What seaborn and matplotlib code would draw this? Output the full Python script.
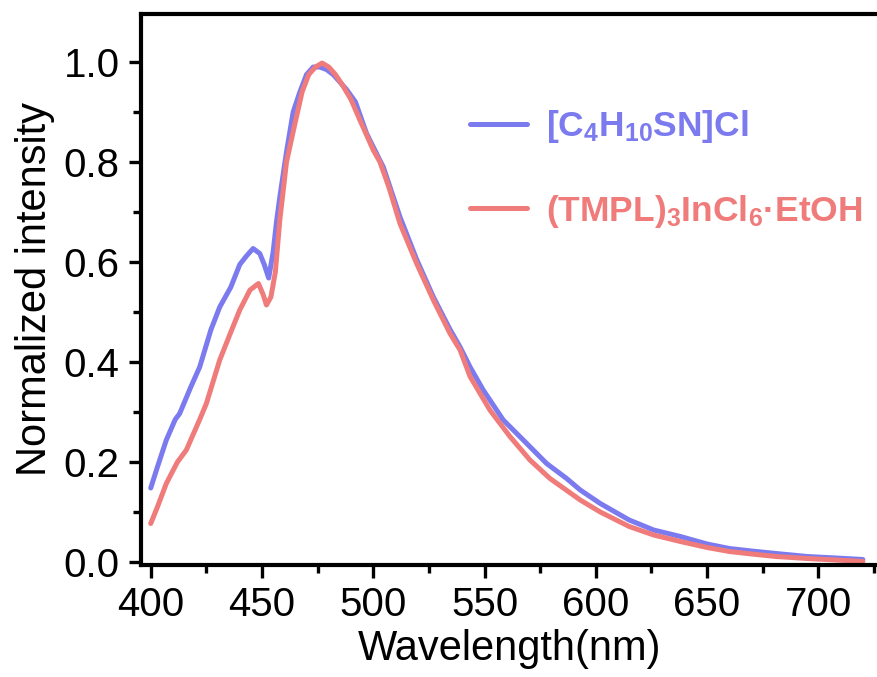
import numpy as np
import pandas as pd
import matplotlib
matplotlib.use("Agg")
import matplotlib.pyplot as plt
import seaborn as sns
from matplotlib.ticker import MultipleLocator
from matplotlib.lines import Line2D

# ---- data ----
wl_blue = [400, 403, 407, 411, 413, 418, 422, 427, 431, 436, 440, 443, 446, 449,
           451, 453, 455, 456.5, 458, 461, 464, 467, 470, 473, 476, 479, 482, 485,
           488, 492, 497, 500, 504.5, 509, 512, 519.5, 527, 534.5, 539, 543.5,
           549.4, 558.4, 567.4, 577.9, 586.9, 593, 602, 615, 626, 638, 650, 660,
           670, 681, 695, 708, 720]
int_blue = [0.148, 0.19, 0.244, 0.285, 0.297, 0.35, 0.39, 0.464, 0.51, 0.55, 0.595,
            0.612, 0.627, 0.617, 0.595, 0.568, 0.62, 0.68, 0.73, 0.82, 0.90, 0.94,
            0.975, 0.99, 0.99, 0.985, 0.975, 0.96, 0.945, 0.92, 0.857, 0.83, 0.79,
            0.73, 0.69, 0.605, 0.53, 0.465, 0.43, 0.39, 0.344, 0.284, 0.244, 0.197,
            0.167, 0.144, 0.117, 0.084, 0.064, 0.051, 0.036, 0.027, 0.022, 0.017,
            0.011, 0.008, 0.005]

wl_red = [400, 403, 407, 412, 416, 422, 425, 431, 436, 440, 444.6, 448.4, 450.5,
          452, 454, 456, 458, 461, 464.8, 468, 471, 474, 477, 480, 483, 486, 490,
          494, 500, 503, 507, 512, 519.5, 527, 534.5, 539, 543.5, 552.4, 561.4,
          570.4, 579.4, 593, 602, 615, 626, 638, 650, 660, 670, 681, 695, 708, 720]
int_red = [0.077, 0.11, 0.157, 0.20, 0.224, 0.285, 0.317, 0.404, 0.46, 0.504, 0.544,
           0.557, 0.535, 0.514, 0.53, 0.58, 0.684, 0.80, 0.877, 0.94, 0.975, 0.99,
           0.998, 0.99, 0.975, 0.955, 0.925, 0.884, 0.824, 0.80, 0.75, 0.677, 0.597,
           0.524, 0.457, 0.424, 0.371, 0.304, 0.251, 0.204, 0.167, 0.124, 0.10,
           0.071, 0.054, 0.041, 0.029, 0.021, 0.016, 0.011, 0.007, 0.004, 0.001]

label_blue = r'[C$_4$H$_{10}$SN]Cl'
label_red = r'(TMPL)$_3$InCl$_6$·EtOH'
col_blue = "#7B7BEF"
col_red = "#F07B7B"

x_ticks = [400, 450, 500, 550, 600, 650, 700]
y_ticks = [0.0, 0.2, 0.4, 0.6, 0.8, 1.0]

# ---- style ----
sns.set_style("ticks")
plt.rcParams['font.family'] = ['Liberation Sans', 'DejaVu Sans']
plt.rcParams['text.color'] = 'black'
plt.rcParams['axes.labelcolor'] = 'black'
plt.rcParams['xtick.color'] = 'black'
plt.rcParams['ytick.color'] = 'black'
plt.rcParams['mathtext.fontset'] = 'custom'
plt.rcParams['mathtext.rm'] = 'Liberation Sans:bold'
plt.rcParams['mathtext.it'] = 'Liberation Sans:bold'
plt.rcParams['mathtext.bf'] = 'Liberation Sans:bold'
plt.rcParams['mathtext.default'] = 'bf'

df = pd.concat([
    pd.DataFrame({"wl": wl_blue, "I": int_blue, "s": label_blue}),
    pd.DataFrame({"wl": wl_red, "I": int_red, "s": label_red}),
])

fig = plt.figure(figsize=(8.78, 6.77), dpi=100)
ax = fig.add_axes([140.5 / 878, 1 - 565 / 677, 1 - 140.5 / 878, (565 - 13.8) / 677])

sns.lineplot(data=df, x="wl", y="I", hue="s", palette={label_blue: col_blue, label_red: col_red},
             estimator=None, linewidth=3.6, ax=ax, legend=False)

ax.set_xlim(395.4, 726.8)
ax.set_ylim(-0.006, 1.0965)
ax.set_xticks(x_ticks)
ax.set_yticks(y_ticks)
ax.set_yticklabels([f"{v:.1f}" for v in y_ticks])
ax.xaxis.set_minor_locator(MultipleLocator(25))
ax.yaxis.set_minor_locator(MultipleLocator(0.1))

for side in ['left', 'bottom', 'top']:
    ax.spines[side].set_linewidth(3.0)
    ax.spines[side].set_color('black')
ax.spines['right'].set_visible(False)
ax.tick_params(which='major', direction='out', length=9, width=2.4, labelsize=29, pad=6,
               top=False, right=False, colors='black')
ax.tick_params(which='minor', direction='out', length=6, width=2.4, top=False, right=False,
               colors='black')

ax.set_xlabel("Wavelength(nm)", fontsize=30, labelpad=4, color='black')
ax.set_ylabel("Normalized intensity", fontsize=30, labelpad=6, color='black')

handles = [Line2D([], [], color=col_blue, lw=3.6), Line2D([], [], color=col_red, lw=3.6)]
leg = ax.legend(handles, [label_blue, label_red], loc='upper left',
                bbox_to_anchor=(470 / 878, 1 - 108 / 677), bbox_transform=fig.transFigure,
                frameon=False, borderpad=0, borderaxespad=0, handlelength=1.6,
                handletextpad=0.56, labelspacing=1.35,
                prop={'family': 'Liberation Sans', 'weight': 'bold', 'size': 25.5})
for t, c in zip(leg.get_texts(), [col_blue, col_red]):
    t.set_color(c)

fig.savefig("out.png", dpi=100)
